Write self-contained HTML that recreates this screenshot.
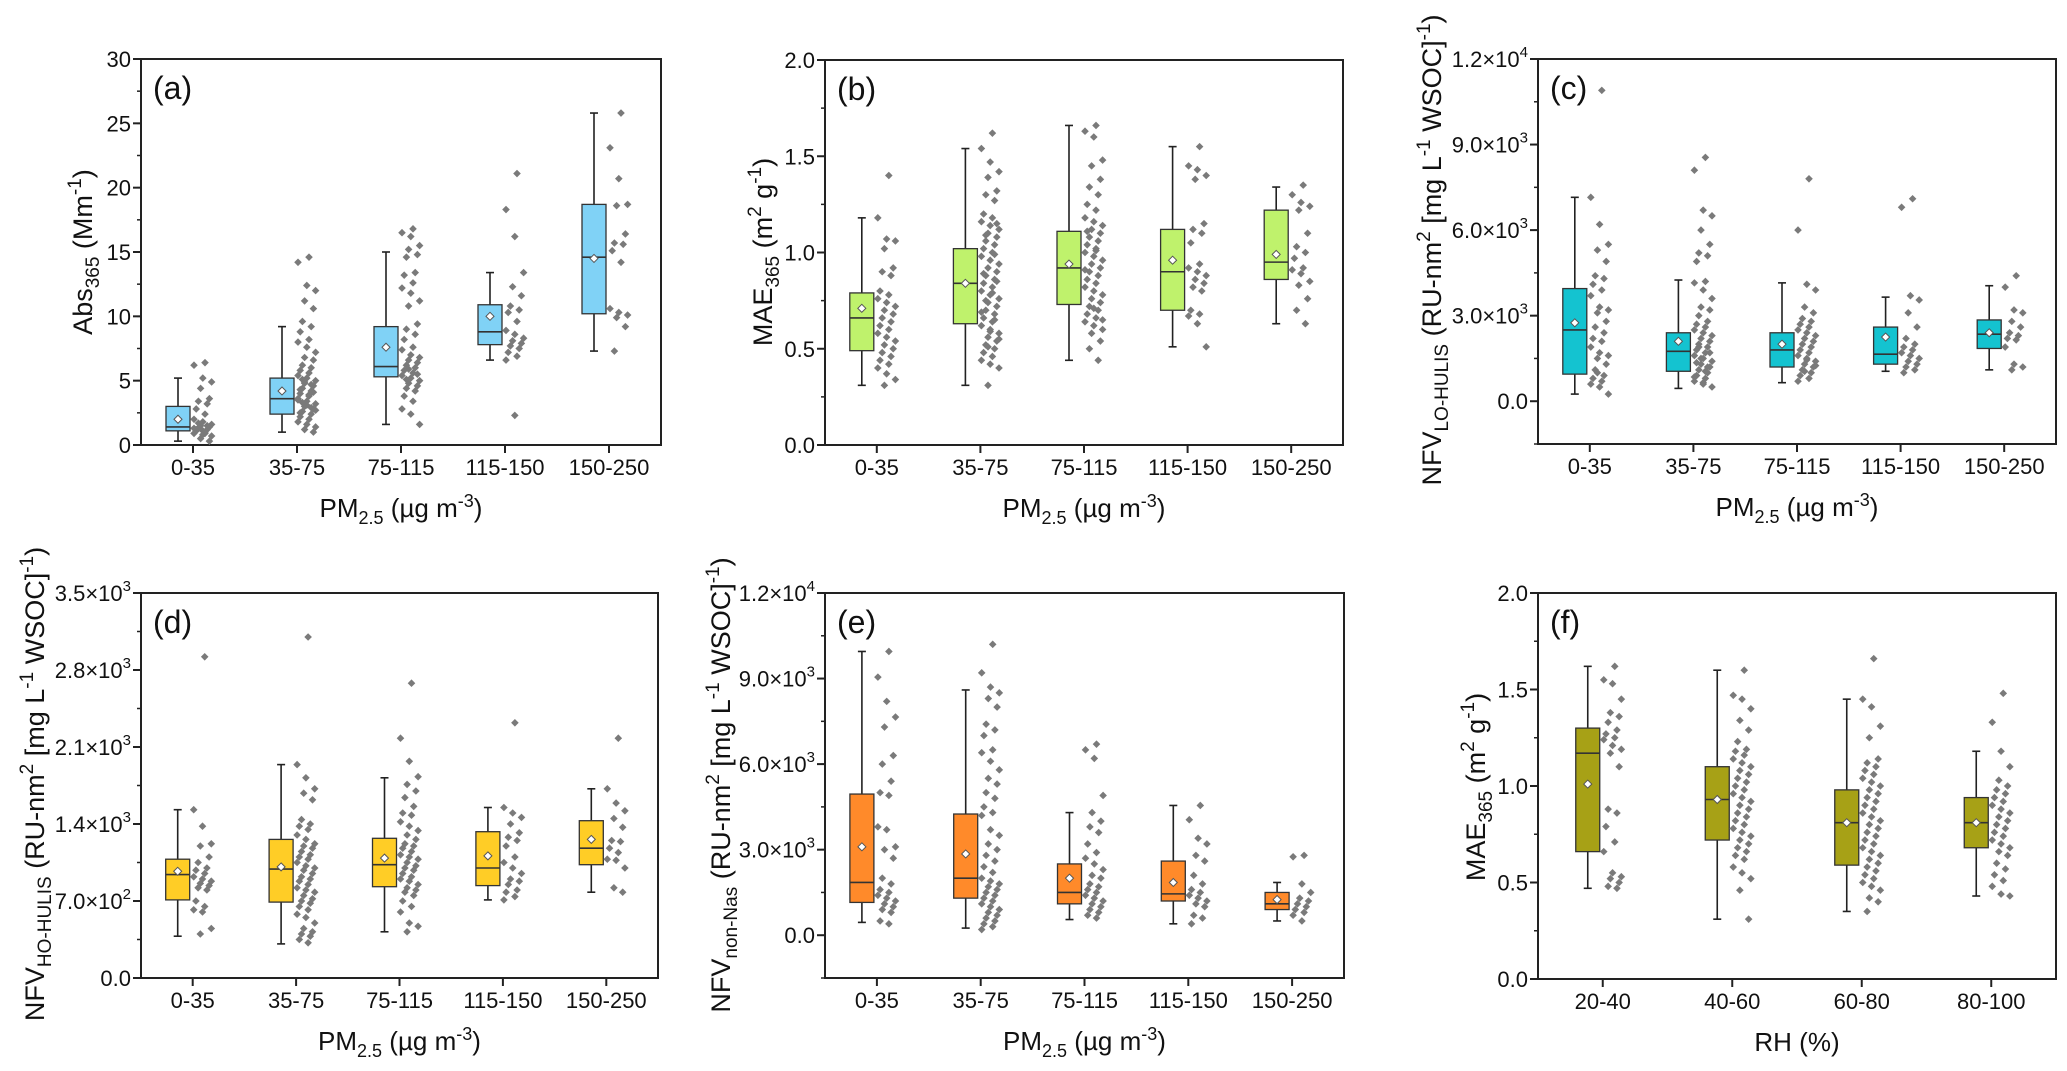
<!DOCTYPE html>
<html><head><meta charset="utf-8"><style>
html,body{margin:0;padding:0;background:#fff;}
svg{display:block;font-family:"Liberation Sans",Arial,sans-serif;}
</style></head><body>
<svg id="fig" width="2067" height="1071" viewBox="0 0 2067 1071" xmlns="http://www.w3.org/2000/svg"></svg>
<script>
// ---------- data ----------
const catsPM = ["0-35","35-75","75-115","115-150","150-250"];
const catsRH = ["20-40","40-60","60-80","80-100"];

// box stats: [whiskerLow, q1, median, q3, whiskerHigh]
const boxA = [[0.3,1.1,1.4,3.0,5.2],[1.0,2.4,3.6,5.2,9.2],[1.6,5.3,6.1,9.2,15.0],[6.6,7.8,8.8,10.9,13.4],[7.3,10.2,14.6,18.7,25.8]];
const meanA = [2.0,4.2,7.6,10.0,14.5];
const ptsA = [
[6.4,6.2,5.2,4.9,4.4,3.6,3.4,3.2,2.8,2.4,2.0,1.8,1.6,1.5,1.4,1.3,1.2,1.1,1.0,0.9,0.8,0.7,0.5,0.3,1.7,1.5,1.2,0.9,1.3,1.1],
[14.6,14.2,12.4,12.0,11.2,10.6,9.6,9.2,8.8,8.2,8.0,7.6,7.2,6.8,6.6,6.2,6.0,5.8,5.6,5.4,5.2,5.0,4.8,4.6,4.4,4.2,4.0,3.8,3.6,3.4,3.2,3.0,2.8,2.6,2.4,2.2,2.0,1.8,1.6,1.4,1.2,1.0,5.1,4.7,4.3,3.9,3.5,3.1,2.7,4.9,4.1,3.3,2.9,2.5],
[16.8,16.5,16.2,15.5,15.2,14.8,14.6,13.4,13.2,12.6,12.2,11.8,11.2,10.8,9.4,9.0,8.6,8.2,7.6,7.4,7.0,6.8,6.6,6.4,6.2,6.0,5.8,5.6,5.4,5.2,5.0,4.8,4.6,4.4,4.2,3.8,3.4,2.8,2.4,1.6,5.9,5.5,5.1],
[21.1,18.3,16.2,13.4,12.3,11.6,10.8,10.5,10.3,9.6,8.9,8.6,8.3,8.1,7.9,7.7,7.5,7.2,6.9,6.6,2.3],
[25.8,23.1,20.7,18.7,18.6,16.4,15.7,15.6,15.1,14.2,10.6,10.3,10.1,9.9,9.2,7.3]];

const boxB = [[0.31,0.49,0.66,0.79,1.18],[0.31,0.63,0.84,1.02,1.54],[0.44,0.73,0.92,1.11,1.66],[0.51,0.70,0.90,1.12,1.55],[0.63,0.86,0.95,1.22,1.34]];
const meanB = [0.71,0.84,0.94,0.96,0.99];
const ptsB = [
[1.40,1.18,1.07,1.06,1.02,0.92,0.90,0.88,0.80,0.78,0.76,0.74,0.72,0.70,0.68,0.66,0.64,0.62,0.60,0.58,0.56,0.54,0.52,0.50,0.48,0.46,0.44,0.42,0.40,0.37,0.34,0.31],
[1.62,1.54,1.47,1.42,1.39,1.32,1.30,1.27,1.20,1.18,1.16,1.14,1.12,1.10,1.08,1.06,1.04,1.02,1.00,0.98,0.96,0.94,0.92,0.90,0.88,0.86,0.84,0.82,0.80,0.78,0.76,0.74,0.72,0.70,0.68,0.66,0.64,0.62,0.60,0.58,0.56,0.54,0.52,0.50,0.48,0.46,0.44,0.42,0.40,0.31,1.15,1.09,0.99,0.89,0.79,0.69,0.59,0.55,0.51,0.85,0.75,0.65],
[1.66,1.63,1.60,1.48,1.45,1.38,1.34,1.30,1.25,1.22,1.18,1.16,1.14,1.12,1.10,1.08,1.06,1.04,1.02,1.00,0.98,0.96,0.94,0.92,0.90,0.88,0.86,0.84,0.82,0.80,0.78,0.76,0.74,0.72,0.70,0.68,0.66,0.64,0.62,0.60,0.58,0.54,0.50,0.44,1.11,1.01,0.91,0.71,0.65],
[1.55,1.45,1.43,1.40,1.38,1.15,1.12,1.10,1.05,0.94,0.92,0.90,0.88,0.86,0.84,0.82,0.80,0.70,0.68,0.67,0.63,0.51],
[1.35,1.30,1.26,1.24,1.22,1.10,1.03,1.00,0.97,0.92,0.91,0.89,0.85,0.83,0.76,0.70,0.63]];

const boxC = [[250,950,2500,3950,7150],[450,1050,1750,2400,4250],[650,1200,1800,2400,4150],[1050,1300,1650,2600,3650],[1100,1850,2350,2850,4050]];
const meanC = [2750,2100,2000,2250,2400];
const ptsC = [
[10900,7150,6200,5500,5300,4900,4400,4300,4100,3900,3700,3300,3200,3100,2800,2600,2400,2200,2100,1900,1700,1600,1500,1300,1100,900,800,700,600,500,250,1000],
[8550,8100,6700,6500,6000,5500,5200,5100,4900,4200,4150,3900,3600,3300,3200,3000,2800,2700,2600,2500,2400,2300,2200,2100,2000,1900,1800,1700,1600,1500,1400,1300,1200,1100,1000,900,800,700,600,500,1500,1700,1900,1200,1350,1050,850,650],
[7800,6000,4100,3900,3300,3100,2900,2800,2700,2600,2500,2400,2300,2200,2100,2000,1900,1800,1700,1600,1500,1400,1300,1200,1100,1000,900,800,700,1450,1250,1050],
[7100,6800,3700,3550,3100,2600,2200,2000,1900,1800,1700,1600,1500,1400,1300,1200,1100,1000],
[4400,4000,3200,3100,2800,2600,2400,2300,2200,2150,1900,1300,1200,1100]];

const boxD = [[380,710,940,1080,1530],[310,690,990,1260,1940],[420,830,1030,1270,1820],[710,840,1000,1330,1550],[780,1030,1180,1430,1720]];
const meanD = [970,1010,1090,1110,1260];
const ptsD = [
[2920,1530,1380,1220,1200,1100,1050,1000,980,950,920,900,880,860,840,820,800,700,650,620,600,450,400],
[3100,1940,1820,1720,1680,1620,1440,1400,1380,1350,1300,1260,1220,1200,1180,1150,1120,1100,1080,1050,1020,1000,980,950,920,900,880,850,820,800,780,750,720,700,680,650,620,580,550,500,450,420,400,380,350,320],
[2680,2180,1970,1830,1760,1700,1640,1560,1500,1480,1420,1380,1340,1300,1260,1220,1200,1180,1150,1120,1100,1080,1050,1020,1000,980,950,920,900,880,850,820,800,780,750,700,650,600,500,470,420],
[2320,1550,1500,1460,1400,1320,1280,1250,1200,1100,1050,1000,950,900,880,850,800,780,740,710],
[2180,1720,1590,1520,1450,1370,1250,1240,1180,1140,1080,1070,1000,820,780]];

const boxE = [[450,1150,1850,4950,9950],[250,1300,2000,4250,8600],[550,1100,1500,2500,4300],[400,1200,1450,2600,4550],[500,900,1100,1500,1850]];
const meanE = [3100,2850,2000,1850,1250];
const ptsE = [
[9950,9050,8200,7650,7300,6300,6000,5400,5000,4900,3800,3700,3100,3000,2700,2000,1800,1600,1500,1400,1300,1200,1100,1000,900,800,500,400],
[10200,9200,8700,8500,8300,8000,7400,7200,7000,6500,6400,6100,5800,5500,5300,5000,4800,4500,4300,4200,3700,3500,3200,3000,2800,2600,2400,2200,2000,1900,1800,1700,1600,1500,1400,1300,1200,1100,1000,900,800,700,600,500,400,300,200],
[6700,6500,6200,4900,4300,4000,3800,3600,3200,2900,2700,2500,2300,2100,2000,1800,1700,1600,1500,1400,1300,1200,1100,1000,900,800,700,600],
[4550,4050,3400,3200,2800,2600,2100,1800,1600,1500,1400,1300,1200,1100,1000,700,600,400],
[2800,2750,1800,1500,1300,1200,1100,1000,900,800,700,500]];

const boxF = [[0.47,0.66,1.17,1.30,1.62],[0.31,0.72,0.93,1.10,1.60],[0.35,0.59,0.81,0.98,1.45],[0.43,0.68,0.81,0.94,1.18]];
const meanF = [1.01,0.93,0.81,0.81];
const ptsF = [
[1.62,1.55,1.53,1.45,1.38,1.36,1.33,1.29,1.27,1.25,1.24,1.21,1.19,1.17,1.10,0.88,0.86,0.79,0.71,0.66,0.55,0.53,0.52,0.50,0.48,0.47],
[1.60,1.47,1.45,1.40,1.34,1.29,1.23,1.19,1.18,1.16,1.14,1.12,1.10,1.08,1.06,1.04,1.02,1.00,0.98,0.96,0.94,0.92,0.90,0.88,0.86,0.84,0.82,0.80,0.78,0.76,0.74,0.72,0.70,0.68,0.66,0.64,0.62,0.58,0.55,0.52,0.46,0.31],
[1.66,1.45,1.41,1.31,1.25,1.14,1.12,1.10,1.08,1.06,1.04,1.02,1.00,0.98,0.96,0.94,0.92,0.90,0.88,0.86,0.84,0.82,0.80,0.78,0.76,0.74,0.72,0.70,0.68,0.66,0.64,0.62,0.60,0.58,0.56,0.54,0.52,0.50,0.48,0.46,0.42,0.40,0.35],
[1.48,1.33,1.18,1.10,1.03,1.00,0.98,0.96,0.94,0.92,0.90,0.88,0.86,0.84,0.82,0.80,0.78,0.76,0.74,0.72,0.70,0.68,0.66,0.64,0.60,0.57,0.54,0.51,0.48,0.44,0.43]];

// tick values & labels
const ticksA = [0,5,10,15,20,25,30];
const tickLabelsA = ["0","5","10","15","20","25","30"];
const ticksB = [0,0.5,1.0,1.5,2.0];
const tickLabelsB = ["0.0","0.5","1.0","1.5","2.0"];
const ticksC = [0,3000,6000,9000,12000];
const tickLabelsC = [["0.0",""],["3.0×10","3"],["6.0×10","3"],["9.0×10","3"],["1.2×10","4"]];
const ticksD = [0,700,1400,2100,2800,3500];
const tickLabelsD = [["0.0",""],["7.0×10","2"],["1.4×10","3"],["2.1×10","3"],["2.8×10","3"],["3.5×10","3"]];

// ---------- drawing ----------
const NS = "http://www.w3.org/2000/svg";
const svg = document.getElementById("fig");
function mk(tag, attrs, parent){
  const e = document.createElementNS(NS, tag);
  for (const k in attrs) e.setAttribute(k, attrs[k]);
  (parent||svg).appendChild(e);
  return e;
}

function panel(p){
  const g = mk("g", {});
  
  
  const L=p.x0,R=p.x1,T=p.y0,B=p.y1;
  const n = p.cats.length;
  const xs = i => L + (R-L)*(i+0.5)/n;
  const ys = v => B - (v - p.ymin)/(p.ymax - p.ymin)*(B-T);

  const fr = mk("rect",{x:L,y:T,width:R-L,height:B-T,fill:"none",stroke:"#222","stroke-width":2},g);
  
  

  for (let v=p.ymin; v<=p.ymax+1e-9; v+=p.minor){
    const t = mk("line",{x1:L-4,x2:L,y1:ys(v),y2:ys(v),stroke:"#222","stroke-width":1.5},g);
    
    
  }
  p.ticks.forEach((v,i)=>{
    const y = ys(v);
    const t = mk("line",{x1:L-8,x2:L,y1:y,y2:y,stroke:"#222","stroke-width":2},g);
    
    
    const lab = p.labels[i];
    const tx = mk("text",{x:L-10,y:y+8,"text-anchor":"end","font-size":22,fill:"#111"},g);
    
    
    if (Array.isArray(lab)){
      tx.appendChild(document.createTextNode(lab[0]));
      if (lab[1]){ const s = mk("tspan",{"font-size":15,dy:-10},tx); s.textContent = lab[1]; }
    } else tx.textContent = lab;
  });
  p.cats.forEach((c,i)=>{
    const x = xs(i);
    const t = mk("line",{x1:x,x2:x,y1:B,y2:B+8,stroke:"#222","stroke-width":2},g);
    
    
    const tx = mk("text",{x:x,y:B+30,"text-anchor":"middle","font-size":22,fill:"#111"},g);
    
    
    tx.textContent = c;
  });
  p.box.forEach((b,i)=>{
    const cx = xs(i) - 15, w = 24;
    const wl = mk("line",{x1:cx,x2:cx,y1:ys(b[0]),y2:ys(b[4]),stroke:"#222","stroke-width":1.6},g);
    
    
    [b[0],b[4]].forEach(v=>{
      const c = mk("line",{x1:cx-4,x2:cx+4,y1:ys(v),y2:ys(v),stroke:"#222","stroke-width":1.6},g);
      
      
    });
    const r = mk("rect",{x:cx-w/2,y:ys(b[3]),width:w,height:ys(b[1])-ys(b[3]),fill:p.color,stroke:"#333","stroke-width":1.3},g);
    
    
    const m = mk("line",{x1:cx-w/2,x2:cx+w/2,y1:ys(b[2]),y2:ys(b[2]),stroke:"#333","stroke-width":1.6},g);
    
    
    const my = ys(p.mean[i]);
    const d = mk("path",{d:`M${cx} ${my-4}L${cx+4} ${my}L${cx} ${my+4}L${cx-4} ${my}Z`,fill:"#fff",stroke:"#555","stroke-width":1},g);
    
    
  });
  p.pts.forEach((arr,i)=>{
    const base = xs(i);
    arr.forEach((v,j)=>{
      const dx = 1 + ((j*13+5)%9)*2.2;
      const x = base + dx, y = ys(v);
      const pt = mk("path",{d:`M${x} ${y-3.8}L${x+3.8} ${y}L${x} ${y+3.8}L${x-3.8} ${y}Z`,fill:"#7a7a7a"},g);
      
      
    });
  });
  const pl = mk("text",{x:L+12,y:T+40,"font-size":32,fill:"#111"},g);
  
  
  pl.textContent = "(" + p.id + ")";
  const xt = mk("text",{x:(L+R)/2,y:B+72,"text-anchor":"middle","font-size":26,fill:"#111"},g);
  
  
  if (p.xtitle === "RH") { xt.textContent = "RH (%)"; }
  else {
    xt.appendChild(document.createTextNode("PM"));
    let s = mk("tspan",{"font-size":18,dy:7},xt); s.textContent="2.5";
    s = mk("tspan",{dy:-7},xt); s.textContent=" (µg m";
    s = mk("tspan",{"font-size":18,dy:-10},xt); s.textContent="-3";
    s = mk("tspan",{dy:10},xt); s.textContent=")";
  }
  const yt = mk("text",{transform:`translate(${p.ytx},${p.yty}) rotate(-90)`,"text-anchor":"middle","font-size":p.ytfs||27,fill:"#111"},g);
  
  
  p.ytitle.forEach(seg=>{
    const s = mk("tspan",{},yt);
    if (seg[1]==="sub"){ s.setAttribute("font-size",19); s.setAttribute("dy",7); }
    else if (seg[1]==="sup"){ s.setAttribute("font-size",19); s.setAttribute("dy",-11); }
    else if (seg[1]==="back"){ s.setAttribute("dy",seg[2]); }
    s.textContent = seg[0];
  });
}

const pmTitleNFV = (sub)=>[["NFV"],[sub,"sub"],[" (RU-nm","back",-7],["2","sup"],[" [mg L","back",11],["-1","sup"],[" WSOC]","back",11],["-1","sup"],[")","back",11]];

panel({id:"a",x0:141,x1:661,y0:59,y1:445,ymin:0,ymax:30,minor:2.5,ticks:ticksA,labels:tickLabelsA,cats:catsPM,box:boxA,mean:meanA,pts:ptsA,color:"#80d2f6",
  ytx:92,yty:252,ytitle:[["Abs"],["365","sub"],[" (Mm","back",-7],["-1","sup"],[")","back",11]]});
panel({id:"b",x0:825,x1:1343,y0:60,y1:445,ymin:0,ymax:2,minor:0.25,ticks:ticksB,labels:tickLabelsB,cats:catsPM,box:boxB,mean:meanB,pts:ptsB,color:"#bff26c",
  ytx:772,yty:252,ytitle:[["MAE"],["365","sub"],[" (m","back",-7],["2","sup"],[" g","back",11],["-1","sup"],[")","back",11]]});
panel({id:"c",x0:1538,x1:2056,y0:59,y1:444,ymin:-1500,ymax:12000,minor:1500,ticks:ticksC,labels:tickLabelsC,cats:catsPM,box:boxC,mean:meanC,pts:ptsC,color:"#14c3d0",
  ytx:1441,yty:250,ytitle:pmTitleNFV("LO-HULIS")});
panel({id:"d",x0:141,x1:658,y0:593,y1:978,ymin:0,ymax:3500,minor:350,ticks:ticksD,labels:tickLabelsD,cats:catsPM,box:boxD,mean:meanD,pts:ptsD,color:"#ffcd26",
  ytx:44,yty:784,ytitle:pmTitleNFV("HO-HULIS")});
panel({id:"e",x0:825,x1:1344,y0:593,y1:978,ymin:-1500,ymax:12000,minor:1500,ticks:ticksC,labels:tickLabelsC,cats:catsPM,box:boxE,mean:meanE,pts:ptsE,color:"#ff8a2a",
  ytx:730,yty:785,ytitle:pmTitleNFV("non-Nas")});
panel({id:"f",x0:1538,x1:2056,y0:593,y1:979,ymin:0,ymax:2,minor:0.25,ticks:ticksB,labels:tickLabelsB,cats:catsRH,box:boxF,mean:meanF,pts:ptsF,color:"#a7a116",
  ytx:1485,yty:787,xtitle:"RH",ytitle:[["MAE"],["365","sub"],[" (m","back",-7],["2","sup"],[" g","back",11],["-1","sup"],[")","back",11]]});
</script>
</body></html>
